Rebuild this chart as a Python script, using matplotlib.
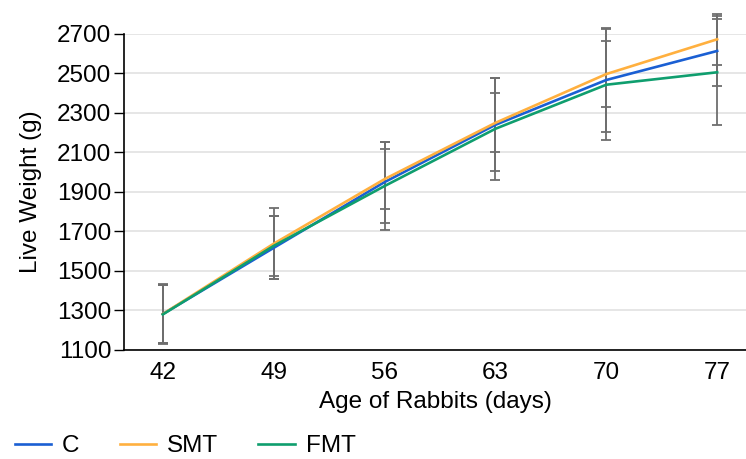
import numpy as np
import matplotlib.pyplot as plt

plt.rcParams['font.family'] = ['Liberation Sans', 'DejaVu Sans']

days = ['42', '49', '56', '63', '70', '77']
series = ['C', 'SMT', 'FMT']
colors = ['#1a5fd3', '#ffb03f', '#0f9e6e']

c_mean = [1282, 1617, 1950, 2240, 2467, 2614]
c_err = [150, 160, 205, 235, 265, 178]
smt_mean = [1282, 1638, 1965, 2250, 2497, 2673]
smt_err = [145, 180, 152, 150, 165, 130]
fmt_mean = [1280, 1627, 1930, 2220, 2443, 2506]
fmt_err = [147, 150, 222, 258, 280, 268]

means = [c_mean, smt_mean, fmt_mean]
errs = [c_err, smt_err, fmt_err]

fig = plt.figure(figsize=(7.46, 4.59), dpi=100)
ax = fig.add_axes([0.1662, 0.2375, 0.8338, 0.6885])

x = np.arange(len(days))
for m, e in zip(means, errs):
    ax.errorbar(x, m, yerr=e, fmt='none', ecolor='#6e6e6e', elinewidth=1.3,
                capsize=3.4, capthick=1.3, clip_on=False, zorder=2)
for name, m, col in zip(series, means, colors):
    ax.plot(x, m, color=col, lw=1.9, label=name, zorder=3)

ax.set_xlim(-0.35, 5.26)
ax.set_ylim(1100, 2700)
ax.set_yticks(np.arange(1100, 2701, 200))
ax.set_xticks(x)
ax.set_xticklabels(days)
ax.tick_params(axis='both', labelsize=17.5)
ax.tick_params(axis='x', length=0, pad=9)
ax.tick_params(axis='y', length=7, width=1, pad=2)
ax.grid(axis='y', color='#e2e2e2', lw=1.2, zorder=0)
ax.set_axisbelow(True)
for s in ['top', 'right']:
    ax.spines[s].set_visible(False)
ax.spines['left'].set_linewidth(1.2)
ax.spines['bottom'].set_linewidth(1.2)

ax.set_xlabel('Age of Rabbits (days)', fontsize=17.5, labelpad=5)
ax.set_ylabel('Live Weight (g)', fontsize=17.5, labelpad=11)

fig.legend(loc='lower left', bbox_to_anchor=(0.0, -0.028), ncol=3, frameon=False,
           fontsize=17.5, handlelength=1.5, handletextpad=0.45, columnspacing=1.65,
           borderaxespad=0.2)

fig.savefig('out.png', dpi=100)
